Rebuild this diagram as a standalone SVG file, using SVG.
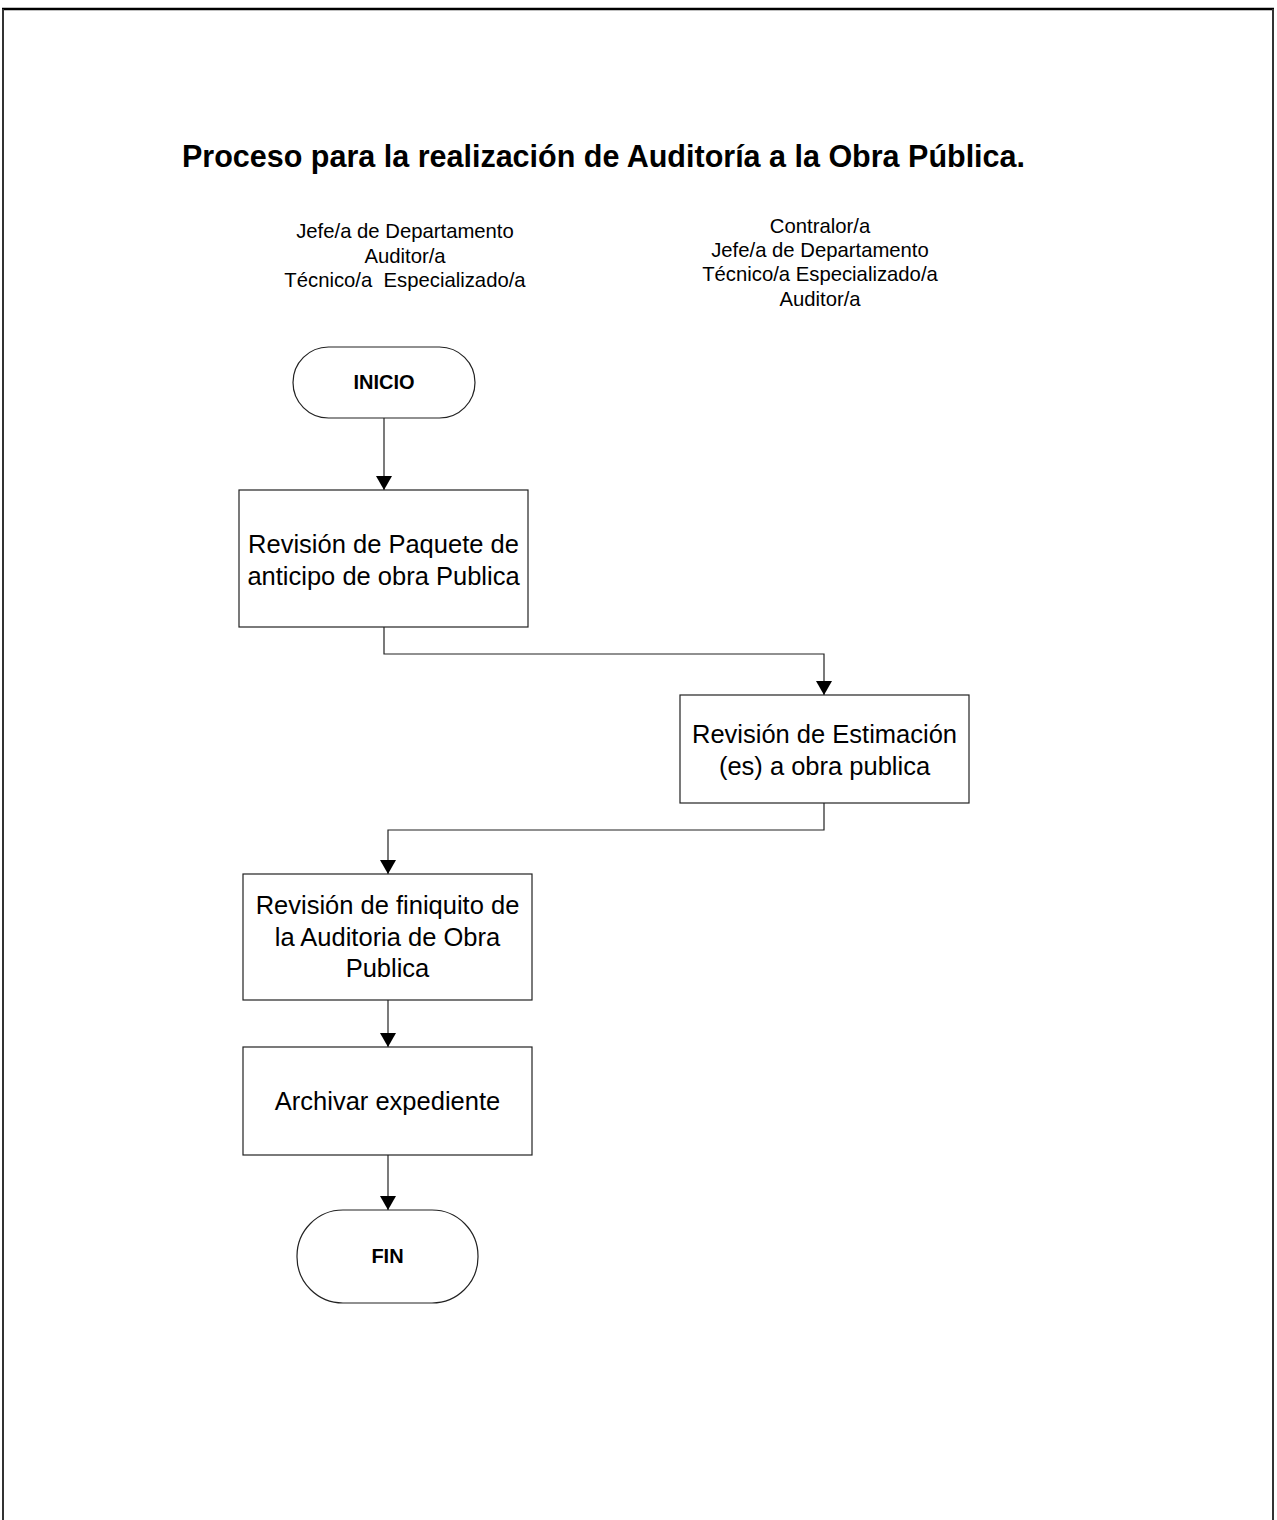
<svg xmlns="http://www.w3.org/2000/svg" width="1277" height="1520" viewBox="0 0 1277 1520">
  <style>
    .lbl { font-family: "Liberation Sans", Arial, sans-serif; fill: #000; }
    .title { font-size: 30.5px; font-weight: bold; }
    .role { font-size: 20.3px; text-anchor: middle; }
    .step { font-size: 25.5px; text-anchor: middle; }
    .term { font-size: 20px; font-weight: bold; text-anchor: middle; }
    .shape { fill: #fff; stroke: #222; stroke-width: 1.2; }
    .conn { fill: none; stroke: #222; stroke-width: 1.2; }
  </style>
  <defs>
    <marker id="arrow" viewBox="0 0 14 16" refX="14" refY="8" markerWidth="14" markerHeight="16" markerUnits="userSpaceOnUse" orient="auto">
      <path d="M0,0 L14,8 L0,16 z" fill="#000"/>
    </marker>
  </defs>
  <rect width="1277" height="1520" fill="#fff"/>

  <!-- page frame -->
  <g id="frame">
    <line x1="2" y1="9" x2="1274" y2="9" stroke="#000" stroke-width="2.5"/>
    <line x1="3" y1="9" x2="3" y2="1520" stroke="#333" stroke-width="2"/>
    <line x1="1273" y1="9" x2="1273" y2="1520" stroke="#333" stroke-width="2"/>
  </g>

  <text class="lbl title" x="182" y="167">Proceso para la realización de Auditoría a la Obra Pública.</text>

  <!-- lane headers -->
  <g id="lane-left">
    <text class="lbl role" x="405" y="238">Jefe/a de Departamento</text>
    <text class="lbl role" x="405" y="263">Auditor/a</text>
    <text class="lbl role" x="405" y="287" xml:space="preserve">Técnico/a  Especializado/a</text>
  </g>
  <g id="lane-right">
    <text class="lbl role" x="820" y="233">Contralor/a</text>
    <text class="lbl role" x="820" y="257">Jefe/a de Departamento</text>
    <text class="lbl role" x="820" y="281">Técnico/a Especializado/a</text>
    <text class="lbl role" x="820" y="306">Auditor/a</text>
  </g>

  <!-- connectors -->
  <g id="connectors">
    <path class="conn" d="M384,418 V490" marker-end="url(#arrow)"/>
    <path class="conn" d="M384,627 V654 H824 V695" marker-end="url(#arrow)"/>
    <path class="conn" d="M824,803 V830 H388 V874" marker-end="url(#arrow)"/>
    <path class="conn" d="M388,1000 V1047" marker-end="url(#arrow)"/>
    <path class="conn" d="M388,1155 V1210" marker-end="url(#arrow)"/>
  </g>

  <g id="inicio">
    <rect class="shape" x="293" y="347" width="182" height="71" rx="35.5" ry="35.5"/>
    <text class="lbl term" x="384" y="389">INICIO</text>
  </g>

  <g id="paquete-anticipo">
    <rect class="shape" x="239" y="490" width="289" height="137"/>
    <text class="lbl step" x="383.5" y="553">Revisión de Paquete de</text>
    <text class="lbl step" x="383.5" y="585">anticipo de obra Publica</text>
  </g>

  <g id="estimaciones">
    <rect class="shape" x="680" y="695" width="289" height="108"/>
    <text class="lbl step" x="824.5" y="743">Revisión de Estimación</text>
    <text class="lbl step" x="824.5" y="775">(es) a obra publica</text>
  </g>

  <g id="finiquito">
    <rect class="shape" x="243" y="874" width="289" height="126"/>
    <text class="lbl step" x="387.5" y="914">Revisión de finiquito de</text>
    <text class="lbl step" x="387.5" y="946">la Auditoria de Obra</text>
    <text class="lbl step" x="387.5" y="977">Publica</text>
  </g>

  <g id="archivar">
    <rect class="shape" x="243" y="1047" width="289" height="108"/>
    <text class="lbl step" x="387.5" y="1110">Archivar expediente</text>
  </g>

  <g id="fin">
    <rect class="shape" x="297" y="1210" width="181" height="93" rx="46" ry="46"/>
    <text class="lbl term" x="387.5" y="1263">FIN</text>
  </g>
</svg>
